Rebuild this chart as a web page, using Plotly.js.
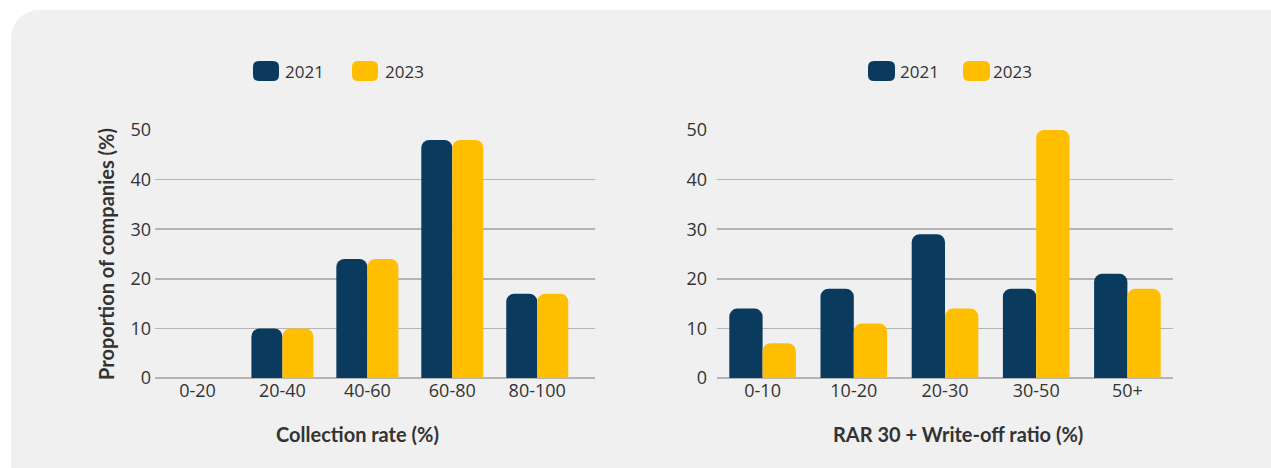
<!DOCTYPE html>
<html>
<head>
<meta charset="utf-8">
<script src="https://cdn.plot.ly/plotly-3.0.1.min.js"></script>
<style>
  html, body { margin: 0; padding: 0; background: #ffffff; }
  #panel { position: absolute; left: 11px; top: 10px; width: 1290px; height: 500px; background: #f0f0f0; border-radius: 28px; }
  #chart { position: absolute; left: 0; top: 0; width: 1271px; height: 468px; }
  body { width: 1271px; height: 468px; overflow: hidden; position: relative; }
</style>
</head>
<body>
<div id="panel"></div>
<div id="chart"></div>
<script>
// ---- Data ----
const seriesNames = ['2021', '2023'];
const collectionCategories = ['0-20', '20-40', '40-60', '60-80', '80-100'];
const collection2021 = [0, 10, 24, 48, 17];
const collection2023 = [0, 10, 24, 48, 17];
const rarCategories = ['0-10', '10-20', '20-30', '30-50', '50+'];
const rar2021 = [14, 18, 29, 18, 21];
const rar2023 = [7, 11, 14, 50, 18];
const yTicks = [0, 10, 20, 30, 40, 50];
const yTitle = 'Proportion of companies (%)';
const xTitleLeft = 'Collection rate (%)';
const xTitleRight = 'RAR 30 + Write-off ratio (%)';

// ---- Style ----
const W = 1271, H = 468;
const NAVY = '#0a3a5d', GOLD = '#ffbe00';
const TEXT = '#333333';
const GRID = '#b4b4b6';
const FONT = '"Open Sans", "Noto Sans", sans-serif';
const BOLD = 'Lato, "Open Sans", sans-serif';

const px = x => x / W;
const py = y => 1 - y / H;

function roundRect(x0, y0, x1, y1, r) {
  const P = (x, y) => px(x) + ',' + py(y);
  return 'M' + P(x0 + r, y0) + ' L' + P(x1 - r, y0) +
    ' Q' + P(x1, y0) + ' ' + P(x1, y0 + r) +
    ' L' + P(x1, y1 - r) + ' Q' + P(x1, y1) + ' ' + P(x1 - r, y1) +
    ' L' + P(x0 + r, y1) + ' Q' + P(x0, y1) + ' ' + P(x0, y1 - r) +
    ' L' + P(x0, y0 + r) + ' Q' + P(x0, y0) + ' ' + P(x0 + r, y0) + ' Z';
}

const CR = 8;
const traces = [
  { type: 'bar', name: seriesNames[0], x: collectionCategories, y: collection2021, xaxis: 'x', yaxis: 'y', marker: { color: NAVY, cornerradius: CR }, showlegend: false },
  { type: 'bar', name: seriesNames[1], x: collectionCategories, y: collection2023, xaxis: 'x', yaxis: 'y', marker: { color: GOLD, cornerradius: CR }, showlegend: false },
  { type: 'bar', name: seriesNames[0], x: rarCategories, y: rar2021, xaxis: 'x2', yaxis: 'y2', marker: { color: NAVY, cornerradius: CR }, showlegend: false },
  { type: 'bar', name: seriesNames[1], x: rarCategories, y: rar2023, xaxis: 'x2', yaxis: 'y2', marker: { color: GOLD, cornerradius: CR }, showlegend: false }
];

const yDomain = [py(378), py(130)];

const xAxisBase = {
  type: 'category', showgrid: false, zeroline: false, showline: false, ticks: '',
  tickfont: { family: FONT, size: 18, color: TEXT }, fixedrange: true
};
const yAxisBase = {
  range: [0, 50], tickvals: yTicks, showgrid: true, gridcolor: GRID, gridwidth: 1.5,
  zeroline: true, zerolinecolor: GRID, zerolinewidth: 1.5, showline: false, ticks: '',
  tickfont: { family: FONT, size: 18, color: TEXT }, fixedrange: true
};

const titleFont = { family: BOLD, size: 20, color: TEXT, weight: 'bold' };

const layout = {
  width: W, height: H,
  margin: { l: 0, r: 0, t: 0, b: 0 },
  paper_bgcolor: 'rgba(0,0,0,0)', plot_bgcolor: 'rgba(0,0,0,0)',
  barmode: 'group', bargap: 0.27, bargroupgap: 0,
  showlegend: false,
  xaxis: Object.assign({}, xAxisBase, { domain: [px(155), px(595)], anchor: 'y', range: [-0.5, 4.68] }),
  yaxis: Object.assign({}, yAxisBase, { domain: yDomain, anchor: 'x', ticklabelstandoff: 3,
    title: { text: yTitle, font: titleFont, standoff: 10 } }),
  xaxis2: Object.assign({}, xAxisBase, { domain: [px(717), px(1173)], anchor: 'y2', range: [-0.5, 4.5] }),
  yaxis2: Object.assign({}, yAxisBase, { domain: yDomain, anchor: 'x2', ticklabelstandoff: 9 }),
  shapes: [
    { type: 'path', xref: 'paper', yref: 'paper', path: roundRect(253, 61, 279, 81, 6), fillcolor: NAVY, line: { width: 0 } },
    { type: 'path', xref: 'paper', yref: 'paper', path: roundRect(352, 61, 378, 81, 6), fillcolor: GOLD, line: { width: 0 } },
    { type: 'path', xref: 'paper', yref: 'paper', path: roundRect(868, 61, 895, 81, 6), fillcolor: NAVY, line: { width: 0 } },
    { type: 'path', xref: 'paper', yref: 'paper', path: roundRect(963, 61, 990, 81, 6), fillcolor: GOLD, line: { width: 0 } }
  ],
  annotations: [
    { xref: 'paper', yref: 'paper', x: px(283), y: py(71), xanchor: 'left', yanchor: 'middle', text: seriesNames[0], showarrow: false, font: { family: FONT, size: 17, color: TEXT } },
    { xref: 'paper', yref: 'paper', x: px(383), y: py(71), xanchor: 'left', yanchor: 'middle', text: seriesNames[1], showarrow: false, font: { family: FONT, size: 17, color: TEXT } },
    { xref: 'paper', yref: 'paper', x: px(898), y: py(71), xanchor: 'left', yanchor: 'middle', text: seriesNames[0], showarrow: false, font: { family: FONT, size: 17, color: TEXT } },
    { xref: 'paper', yref: 'paper', x: px(991), y: py(71), xanchor: 'left', yanchor: 'middle', text: seriesNames[1], showarrow: false, font: { family: FONT, size: 17, color: TEXT } },
    { xref: 'paper', yref: 'paper', x: px(357), y: py(434), xanchor: 'center', yanchor: 'middle', text: xTitleLeft, showarrow: false, font: titleFont },
    { xref: 'paper', yref: 'paper', x: px(958), y: py(434), xanchor: 'center', yanchor: 'middle', text: xTitleRight, showarrow: false, font: titleFont }
  ]
};

Plotly.newPlot('chart', traces, layout, { displayModeBar: false, staticPlot: true });
</script>
</body>
</html>
